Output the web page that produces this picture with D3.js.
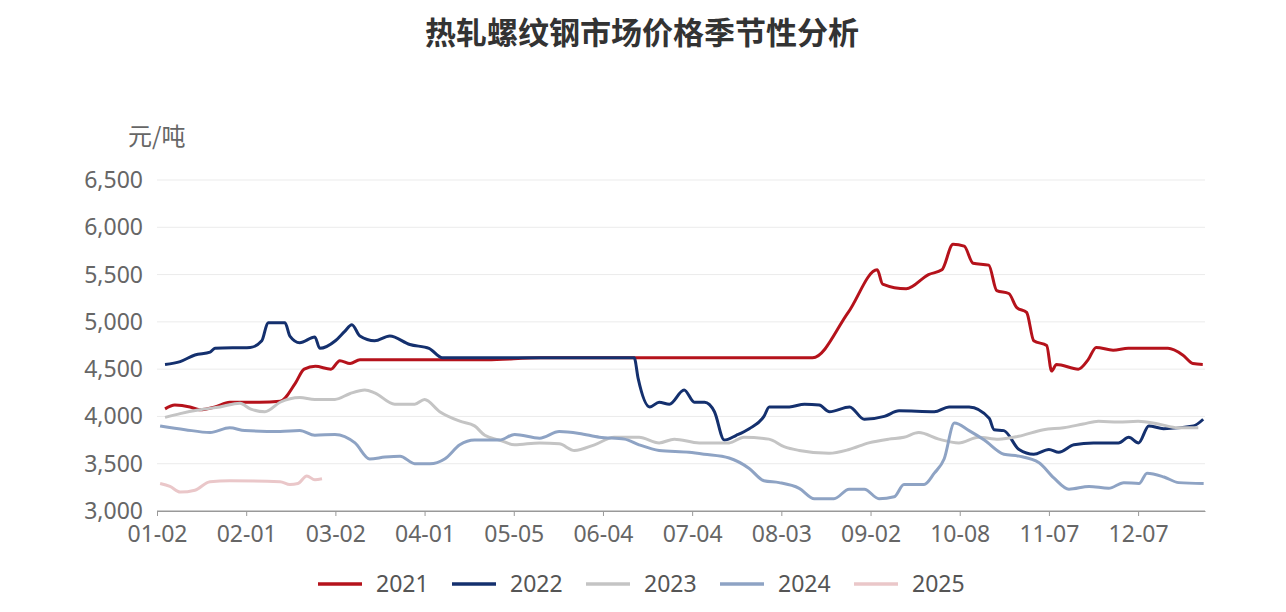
<!DOCTYPE html>
<html><head><meta charset="utf-8">
<script src="https://cdn.jsdelivr.net/npm/d3@7"></script>
<style>body{margin:0;background:#fff;font-family:"Noto Sans CJK SC","Noto Sans",sans-serif}</style>
</head><body><svg id="c" width="1286" height="612"></svg>
<script>
const title = "热轧螺纹钢市场价格季节性分析";
const unit = "元/吨";
const xTickLabels = ["01-02","02-01","03-02","04-01","05-05","06-04","07-04","08-03","09-02","10-08","11-07","12-07"];
const xTickIndex = [0,20,40,60,80,100,120,140,160,180,200,220];
const yTicks = [3000,3500,4000,4500,5000,5500,6000,6500];
const seriesNames = ["2021","2022","2023","2024","2025"];
const seriesColors = ["#b5121b","#14306e","#c4c4c4","#8ea3c4","#eac7c9"];
// [trading-day index, price]
const s2021 = [[1.8,4080],[4,4120],[7.4,4100],[9.6,4070],[13,4100],[16.3,4150],[23,4150],[27.6,4160],[31,4350],[33,4500],[35.5,4530],[39,4500],[41,4590],[43.3,4560],[45.5,4600],[53.4,4600],[61,4600],[74,4600],[86,4620],[147,4620],[155,5100],[161.5,5550],[162.7,5400],[168,5350],[173,5500],[176,5550],[178.5,5820],[181,5800],[183,5620],[186.5,5600],[188.3,5330],[191,5300],[192.8,5150],[195,5100],[196.6,4800],[199.5,4750],[200.6,4480],[201.7,4550],[206.6,4500],[208.8,4600],[210.6,4730],[214.4,4700],[217.8,4720],[226.7,4720],[230,4650],[232.3,4560],[234.5,4550]];
const s2022 = [[1.8,4550],[5.2,4580],[8.5,4650],[11.9,4680],[13,4720],[20.9,4730],[23.5,4800],[24.9,4990],[28.7,4990],[29.8,4850],[32,4780],[35.4,4840],[36.5,4720],[40,4800],[42.1,4900],[43.7,4970],[45.5,4850],[48.8,4800],[52.2,4850],[56.7,4760],[61,4720],[64,4620],[100,4620],[107,4620],[107.9,4400],[110.5,4100],[112.6,4150],[114.9,4130],[118.2,4280],[120.5,4150],[122.8,4150],[125,4050],[127.2,3750],[129.9,3800],[132.8,3870],[136.1,4000],[137.3,4100],[141.8,4100],[145.2,4130],[148.5,4120],[150.8,4050],[155.3,4100],[158.6,3970],[163.1,4000],[166.4,4060],[174.3,4050],[177.6,4100],[182.1,4100],[186.6,3980],[187.7,3860],[189.9,3850],[193.3,3650],[196.6,3600],[200,3650],[202.2,3620],[205.6,3700],[210,3720],[215.6,3720],[217.9,3780],[220.1,3720],[222.4,3900],[225.7,3870],[232.4,3900],[234.6,3970]];
const s2023 = [[1.8,3990],[5.2,4030],[9.6,4070],[14.1,4100],[18.6,4140],[20.9,4080],[24.2,4050],[27.6,4150],[32,4200],[35.4,4180],[39.9,4180],[43.2,4240],[46.6,4280],[48.8,4250],[53.3,4130],[57.8,4130],[60,4180],[63.4,4050],[67.9,3950],[71.2,3900],[73.5,3800],[76.8,3750],[80.2,3700],[85.8,3720],[90.2,3710],[93.6,3640],[98.1,3700],[102.5,3780],[108.1,3780],[112.6,3720],[116,3760],[121.6,3720],[128.3,3720],[131.6,3780],[137.2,3760],[140.6,3680],[144,3640],[150.7,3610],[155.2,3650],[159.6,3720],[164.1,3760],[167.5,3780],[170.8,3830],[175.3,3760],[179.8,3720],[184.2,3780],[188.7,3760],[193.2,3790],[198.8,3860],[203.3,3880],[207.7,3920],[211.1,3950],[215.6,3940],[220,3950],[224.5,3920],[229,3880],[233.5,3880]];
const s2024 = [[0.7,3900],[6.3,3860],[11.9,3830],[16.3,3880],[19.7,3850],[27.6,3840],[32,3850],[35.4,3800],[39.9,3810],[44.4,3720],[47.7,3550],[51.1,3570],[54.5,3580],[57.8,3500],[61.2,3500],[64.5,3550],[67.9,3700],[71.2,3750],[76.8,3750],[80.2,3810],[85.8,3770],[90.2,3840],[94.7,3820],[99.2,3780],[104.8,3760],[108.1,3700],[112.6,3640],[119.3,3620],[122.7,3600],[128.3,3560],[132.8,3450],[136.1,3320],[139.5,3300],[144,3240],[147.4,3130],[151.8,3130],[155.2,3230],[158.6,3230],[161.9,3130],[165.3,3150],[167.5,3280],[172,3280],[174.3,3400],[176.5,3550],[178.8,3930],[182.1,3850],[185.5,3750],[189.9,3600],[193.3,3580],[197.8,3510],[201.1,3350],[204.5,3230],[209,3260],[213.4,3240],[216.8,3300],[220.2,3290],[222,3400],[225.8,3360],[229.1,3300],[234.7,3290]];
const s2025 = [[0.7,3290],[2.9,3260],[5.2,3200],[8.5,3220],[11.9,3310],[16.3,3320],[27.6,3310],[29.8,3280],[31.6,3290],[33.6,3370],[35.4,3330],[37,3340]];
const allSeries = [s2021,s2022,s2023,s2024,s2025];

const svg = d3.select("#c");
const m = {l:157, r:1205, t:180, b:511};
const x = d3.scaleLinear().domain([0,235]).range([m.l,m.r]);
const y = d3.scaleLinear().domain([3000,6500]).range([m.b,m.t]);

svg.append("text").attr("x",642).attr("y",44).attr("text-anchor","middle")
  .attr("font-size",31).attr("font-weight","bold").attr("fill","#333").text(title);
svg.append("text").attr("x",128).attr("y",145).attr("font-size",24).attr("fill","#666").text(unit);

const gy = svg.append("g");
yTicks.forEach(v=>{
  gy.append("line").attr("x1",m.l).attr("x2",m.r).attr("y1",y(v)).attr("y2",y(v))
    .attr("stroke", v===3000?"#999":"#ebebeb").attr("stroke-width",1);
  gy.append("text").attr("x",143).attr("y",y(v)+8).attr("text-anchor","end")
    .attr("font-size",23).attr("fill","#666").attr("font-family","Noto Sans, sans-serif").text(d3.format(",")(v));
});
const gx = svg.append("g").attr("transform",`translate(0,${m.b})`)
  .call(d3.axisBottom(x).tickValues(xTickIndex).tickFormat((d,i)=>xTickLabels[i]).tickSize(5).tickSizeOuter(0));
gx.select(".domain").attr("stroke","#999");
gx.selectAll(".tick line").attr("stroke","#999");
gx.selectAll(".tick text").attr("font-size",23).attr("fill","#666").attr("dy","1.0em")
  .attr("font-family","Noto Sans, sans-serif");

const line = d3.line().x(d=>x(d[0])).y(d=>y(d[1])).curve(d3.curveMonotoneX);
allSeries.forEach((s,i)=>{
  svg.append("path").datum(s).attr("d",line).attr("fill","none")
    .attr("stroke",seriesColors[i]).attr("stroke-width",3).attr("stroke-linejoin","round");
});

const lg = svg.append("g");
const itemW = 134, startX = 318;
seriesNames.forEach((n,i)=>{
  const gx0 = startX + i*itemW;
  lg.append("line").attr("x1",gx0).attr("x2",gx0+44).attr("y1",584).attr("y2",584)
    .attr("stroke",seriesColors[i]).attr("stroke-width",3.5);
  lg.append("text").attr("x",gx0+58).attr("y",592).attr("font-size",23).attr("fill","#555")
    .attr("font-family","Noto Sans, sans-serif").text(n);
});
</script></body></html>
